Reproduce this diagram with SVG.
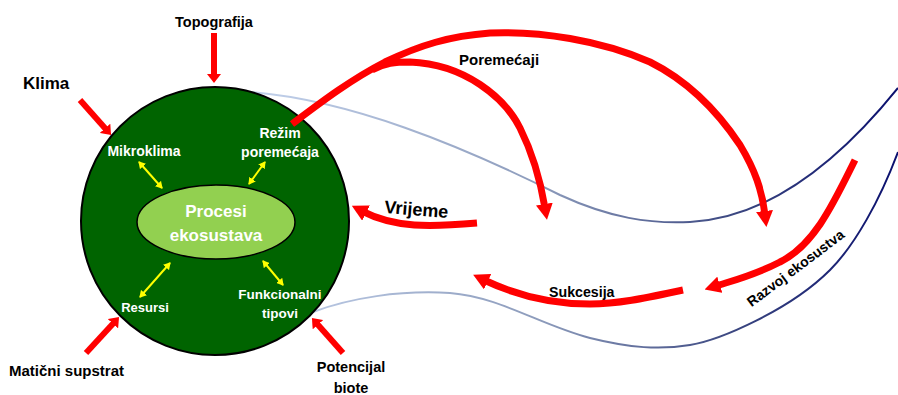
<svg xmlns="http://www.w3.org/2000/svg" width="898" height="395" viewBox="0 0 898 395">
<style>
text{font-family:"Liberation Sans",Arial,sans-serif;font-weight:bold}
.blk{fill:#000}
.wht{fill:#fff}
.redc{fill:none;stroke:#ff0000;stroke-width:7;marker-end:url(#bigHead)}
.reds{fill:none;stroke:#ff0000;stroke-width:6;marker-end:url(#smallHead)}
.yel{fill:none;stroke:#ffff00;stroke-width:2;marker-start:url(#yHead);marker-end:url(#yHead)}
.blue{fill:none;stroke:url(#bg);stroke-width:2}
</style>
<defs>
<linearGradient id="bg" gradientUnits="userSpaceOnUse" x1="250" y1="0" x2="898" y2="0">
<stop offset="0" stop-color="#c3d2ec"/>
<stop offset="0.45" stop-color="#8c9bbb"/>
<stop offset="0.75" stop-color="#3a4680"/>
<stop offset="1" stop-color="#0a0f6e"/>
</linearGradient>
<marker id="bigHead" markerUnits="userSpaceOnUse" viewBox="0 0 16 17" markerWidth="16" markerHeight="17" refX="4" refY="8.5" orient="auto">
<path d="M0,0 L16,8.5 L0,17 z" fill="#ff0000"/>
</marker>
<marker id="smallHead" markerUnits="userSpaceOnUse" viewBox="0 0 9 14" markerWidth="9" markerHeight="14" refX="2" refY="7" orient="auto">
<path d="M0,0 L9,7 L0,14 z" fill="#ff0000"/>
</marker>
<marker id="yHead" markerUnits="userSpaceOnUse" viewBox="0 0 7 8" markerWidth="7" markerHeight="8" refX="6" refY="4" orient="auto-start-reverse">
<path d="M0,0 L7,4 L0,8 z" fill="#ffff00"/>
</marker>
</defs>

<g id="connectors-blue">
<path class="blue" d="M250,92 C350,100 460,145 560,195 C610,218 650,224 690,222 C770,218 840,160 898,88"/>
<path class="blue" d="M313,312 C350,298 400,290 450,293 C500,297 540,325 590,338 C630,348 660,350 690,345 C720,340 790,310 830,270 C855,245 880,200 898,152"/>
</g>

<g id="ecosystem">
<circle cx="215" cy="221" r="134" fill="#006400" stroke="#000" stroke-width="2"/>
</g>
<g id="procesi">
<ellipse cx="216" cy="222" rx="79" ry="37" fill="#92d050" stroke="#000" stroke-width="1.5"/>
<text class="wht" x="216" y="217" font-size="17" text-anchor="middle">Procesi</text>
<text class="wht" x="216" y="241" font-size="17" text-anchor="middle">ekosustava</text>
</g>
<g id="mikroklima"><text class="wht" x="144" y="156" font-size="14" text-anchor="middle">Mikroklima</text></g>
<g id="rezim"><text class="wht" x="280" y="138" font-size="14" text-anchor="middle">Režim</text>
<text class="wht" x="280" y="157" font-size="14" text-anchor="middle">poremećaja</text></g>
<g id="resursi"><text class="wht" x="145" y="312" font-size="13" text-anchor="middle">Resursi</text></g>
<g id="funkcionalni"><text class="wht" x="280" y="299" font-size="13.5" text-anchor="middle">Funkcionalni</text>
<text class="wht" x="280" y="318" font-size="13.5" text-anchor="middle">tipovi</text></g>

<g id="topografija"><text class="blk" x="214" y="27" font-size="14.5" text-anchor="middle">Topografija</text></g>
<g id="klima"><text class="blk" x="23" y="89" font-size="17">Klima</text></g>
<g id="maticni"><text class="blk" x="9" y="376" font-size="15">Matični supstrat</text></g>
<g id="potencijal"><text class="blk" x="351" y="372" font-size="14.5" text-anchor="middle">Potencijal</text>
<text class="blk" x="351" y="393" font-size="14.5" text-anchor="middle">biote</text></g>
<g id="poremecaji"><text class="blk" x="459" y="65" font-size="15">Poremećaji</text></g>
<g id="vrijeme"><text class="blk" x="384" y="213" font-size="18" transform="rotate(4.5 384 213)">Vrijeme</text></g>
<g id="sukcesija"><text class="blk" x="549" y="297" font-size="14.2">Sukcesija</text></g>
<g id="razvoj"><text class="blk" x="798.5" y="272" font-size="14" text-anchor="middle" transform="rotate(-37 798.5 272)">Razvoj ekosustva</text></g>

<g id="connectors">
<line class="yel" x1="139" y1="162" x2="162" y2="188"/>
<line class="yel" x1="265" y1="162" x2="249" y2="184"/>
<line class="yel" x1="140" y1="297" x2="170" y2="263"/>
<line class="yel" x1="263" y1="261" x2="283" y2="285"/>

<path class="reds" d="M214,33 L214,76"/>
<path class="reds" d="M80,100 L106.4,129.8"/>
<path class="reds" d="M86,353 L114.3,322.2"/>
<path class="reds" d="M343,353 L316.6,323.2"/>

<path class="redc" d="M372,70 C385,63 395,62 410,62 C465,64 505,98 520,128 C535,158 542,190 545,208"/>
<path class="redc" d="M292,124 C320,103 350,80 385,62 C420,45 450,36 490,33 C540,31 600,40 650,62 C690,82 720,115 740,145 C755,170 762,190 765,215"/>
<path class="redc" d="M477,223 C430,227 395,228 362.5,211.3"/>
<path class="redc" d="M683,290 C650,297 620,304 590,304 C555,304 522,298 484,280"/>
<path class="redc" d="M855,160 C835,200 815,245 780,262 C755,275 735,280 716,286"/>
</g>
</svg>
